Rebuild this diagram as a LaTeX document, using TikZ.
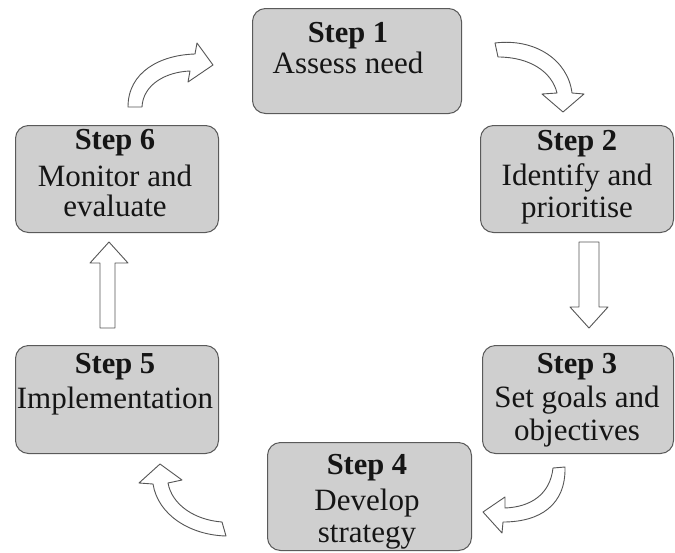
\documentclass[tikz,border=0pt]{standalone}
\usepackage{fontspec}
\setmainfont{Liberation Serif}
\definecolor{boxfill}{HTML}{CFCFCF}
\definecolor{boxline}{HTML}{5A5A5A}
\definecolor{arrline}{HTML}{555555}
\definecolor{txt}{HTML}{151515}
\begin{document}
\begin{tikzpicture}[x=1pt,y=-1pt,
  stepbox/.style={draw=boxline, fill=boxfill, rounded corners=13pt, line width=1pt, anchor=north west, inner sep=0pt},
  lbl/.style={anchor=base, inner sep=0pt, text=txt, font=\fontsize{31}{31}\selectfont},
  hd/.style={anchor=base, inner sep=0pt, text=txt, font=\fontsize{30.5}{31}\selectfont\bfseries},
  blockarrow/.style={draw=arrline, fill=white, line width=0.9pt, line join=round}]
\useasboundingbox (0,0) rectangle (675,552);
% boxes
\node[stepbox, minimum width=209pt, minimum height=105pt] (b1) at (252,8) {};
\node[stepbox, minimum width=193pt, minimum height=107pt] (b2) at (480,125) {};
\node[stepbox, minimum width=191pt, minimum height=108pt] (b3) at (482,345) {};
\node[stepbox, minimum width=204pt, minimum height=108pt] (b4) at (267,442) {};
\node[stepbox, minimum width=203pt, minimum height=108pt] (b5) at (15,345) {};
\node[stepbox, minimum width=203pt, minimum height=107pt] (b6) at (15,125) {};
% texts
\node[hd]  (t1a) at (348,42)  {Step 1};
\node[lbl] (t1b) at (348,73)  {Assess need};
\node[hd]  (t2a) at (577,150) {Step 2};
\node[lbl] (t2b) at (577,185) {Identify and};
\node[lbl] (t2c) at (577,217) {prioritise};
\node[hd]  (t3a) at (577,373) {Step 3};
\node[lbl] (t3b) at (577,407) {Set goals and};
\node[lbl] (t3c) at (577,440) {objectives};
\node[hd]  (t4a) at (367,474) {Step 4};
\node[lbl] (t4b) at (367,510) {Develop};
\node[lbl] (t4c) at (367,542) {strategy};
\node[hd]  (t5a) at (115,373) {Step 5};
\node[lbl] (t5b) at (115,408) {Implementation};
\node[hd]  (t6a) at (115,149) {Step 6};
\node[lbl] (t6b) at (115,186) {Monitor and};
\node[lbl] (t6c) at (115,216) {evaluate};
% arrow 6 -> 1
\draw[blockarrow] (128,107) .. controls (128,72) and (160,55) .. (195,54) -- (197,43) -- (213,65) -- (188,82) -- (190,71) .. controls (165,72) and (143,85) .. (142,107) -- cycle;
% arrow 1 -> 2
\draw[blockarrow] (495,43) .. controls (535,38) and (568,60) .. (572,93) -- (584,94) -- (563,112) -- (542,94) -- (557,93) .. controls (552,72) and (530,57) .. (498,57) -- cycle;
% arrow 2 -> 3
\draw[blockarrow] (579,242) -- (599,242) -- (599,307) -- (608,307) -- (589,328) -- (570,307) -- (579,307) -- cycle;
% arrow 3 -> 4
\draw[blockarrow] (553,468) -- (565,467) .. controls (566,505) and (540,522) .. (503,522) -- (502,533) -- (483,512) -- (505,497) -- (505,508) .. controls (530,507) and (550,495) .. (553,468);
% arrow 4 -> 5
\draw[blockarrow] (226,536) .. controls (190,535) and (158,515) .. (153,484) -- (139,483) -- (160,464) -- (182,480) -- (168,483) .. controls (172,505) and (195,520) .. (222,522) -- cycle;
% arrow 5 -> 6
\draw[blockarrow] (100,328) -- (115,328) -- (115,263) -- (128,263) -- (109,242) -- (90,263) -- (100,263) -- cycle;
\end{tikzpicture}
\end{document}
